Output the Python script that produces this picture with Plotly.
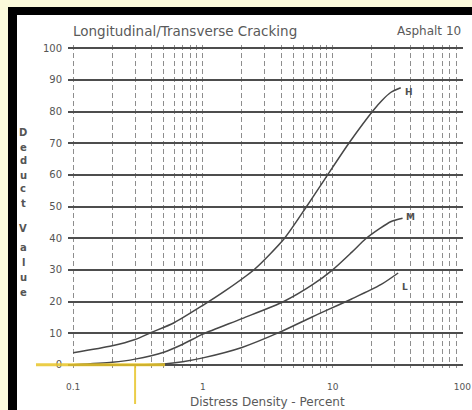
import plotly.graph_objects as go
import math

# ---- data ----
h_density = [0.1, 0.2, 0.3, 0.4, 0.6, 1.0, 1.5, 2.5, 4.26, 6.3, 9.15, 13.5, 20.7, 24, 28, 33.5]
h_value   = [3.8, 6.0, 8.0, 10.2, 13.3, 18.8, 23.5, 30.2, 40, 50, 60, 70.3, 80.5, 83.5, 86, 87.5]

m_density = [0.1, 0.2, 0.3, 0.5, 0.7, 1.0, 2.0, 4.2, 7, 10, 14, 18, 23, 28, 34.6]
m_value   = [0, 0.8, 1.8, 4, 6.5, 9.7, 14.6, 20, 25.3, 30, 35.5, 39.8, 43, 45.2, 46.3]

l_density = [0.1, 0.3, 0.5, 0.7, 1.0, 2.0, 3.76, 7, 14, 23.5, 32]
l_value   = [0, 0, 0.3, 1, 2.2, 5.5, 10, 15.2, 20.8, 25.3, 29]

curve_names = ["H", "M", "L"]

y_ticks = [0, 10, 20, 30, 40, 50, 60, 70, 80, 90, 100]
x_grid = [m * 10 ** e for e in (-1, 0, 1) for m in range(1, 10)] + [100]
x_tick_labels = {0.1: "0.1", 1: "1", 10: "10", 100: "100"}

# reading marker (yellow lines)
read_density = 0.3
read_value = 0

title_text = "Longitudinal/Transverse Cracking"
subtitle_text = "Asphalt 10"
x_title = "Distress Density - Percent"
y_title = "Deduct Value"

# ---- figure ----
W, H = 472, 410
ml, mr, mt, mb = 68, 9, 45, 42
pw, ph = W - ml - mr, H - mt - mb

def px_x(px):
    return (px - ml) / pw

def px_y(py):
    return (H - mb - py) / ph

line_col = "#474747"
fig = go.Figure()
for name, xs, ys in zip(curve_names, [h_density, m_density, l_density],
                        [h_value, m_value, l_value]):
    fig.add_trace(go.Scatter(x=xs, y=ys, mode="lines", name=name,
                             line=dict(color=line_col, width=1.5, shape="spline", smoothing=0.7),
                             hoverinfo="skip", showlegend=False))

# curve labels
label_shift = {"H": (2, -4), "M": (1, 1), "L": (2, -14)}
for name, xs, ys in zip(curve_names, [h_density, m_density, l_density],
                        [h_value, m_value, l_value]):
    dx, dy = label_shift[name]
    fig.add_annotation(x=math.log10(xs[-1]), y=ys[-1], text="<b>%s</b>" % name, showarrow=False,
                       xanchor="left", yanchor="middle", xshift=dx, yshift=dy,
                       font=dict(family="DejaVu Sans", size=9, color="#505050"))

# background decorations: white sheet, black frame bars
fig.add_shape(type="rect", xref="paper", yref="paper", layer="below",
              x0=px_x(8), x1=px_x(W + 5), y0=px_y(H + 5), y1=px_y(7),
              fillcolor="white", line=dict(width=0))
fig.add_shape(type="rect", xref="paper", yref="paper", layer="below",
              x0=px_x(8), x1=px_x(W + 5), y0=px_y(15), y1=px_y(7),
              fillcolor="black", line=dict(width=0))
fig.add_shape(type="rect", xref="paper", yref="paper", layer="below",
              x0=px_x(8), x1=px_x(17), y0=px_y(H + 5), y1=px_y(7),
              fillcolor="black", line=dict(width=0))

# yellow reading lines
yel = "rgba(232,196,40,0.85)"
fig.add_shape(type="line", xref="paper", yref="y", x0=px_x(36), x1=px_x(165),
              y0=read_value, y1=read_value, line=dict(color=yel, width=3), layer="above")
fig.add_shape(type="line", xref="x", yref="paper", x0=read_density, x1=read_density,
              y0=px_y(366), y1=px_y(404), line=dict(color=yel, width=2), layer="above")

# titles
font_txt = dict(family="DejaVu Sans", color="#5a5a5a")
fig.add_annotation(xref="paper", yref="paper", x=px_x(71), y=px_y(31), text=title_text,
                   showarrow=False, xanchor="left", yanchor="middle",
                   font=dict(size=13.5, **font_txt))
fig.add_annotation(xref="paper", yref="paper", x=px_x(463), y=px_y(31), text=subtitle_text,
                   showarrow=False, xanchor="right", yanchor="middle",
                   font=dict(size=12, **font_txt))
fig.add_annotation(xref="paper", yref="paper", x=px_x(267), y=px_y(402), text=x_title,
                   showarrow=False, xanchor="center", yanchor="middle",
                   font=dict(size=12, **font_txt))
# vertical stacked y-axis title letters
letter_y = [132, 147, 160, 175, 188, 203, None, 228, 248, 262, 277, 292]
for ch, cy in zip(y_title, letter_y):
    if ch == " " or cy is None:
        continue
    fig.add_annotation(xref="paper", yref="paper", x=px_x(23), y=px_y(cy),
                       text="<b>%s</b>" % ch, showarrow=False,
                       xanchor="center", yanchor="middle",
                       font=dict(family="DejaVu Sans", size=10, color="#555"))

fig.update_layout(
    width=W, height=H, margin=dict(l=ml, r=mr, t=mt, b=mb, pad=0, autoexpand=False),
    paper_bgcolor="#fbfadb", plot_bgcolor="white",
    xaxis=dict(type="log", range=[-1.04, 2.005], automargin=False,
               tickvals=x_grid, ticktext=[x_tick_labels.get(v, "") for v in x_grid],
               showgrid=True, gridcolor="#8e8e8e", gridwidth=1, griddash="5px,3px",
               showline=False, zeroline=False, ticks="",
               tickfont=dict(family="DejaVu Sans", size=9, color="#555"),
               ticklabelstandoff=12),
    yaxis=dict(range=[-1, 101], tickvals=y_ticks, automargin=False,
               showgrid=True, gridcolor="#4d4d4d", gridwidth=2,
               showline=False, zeroline=False, ticks="",
               tickfont=dict(family="DejaVu Sans", size=10, color="#555"),
               ticklabelstandoff=5),
)

fig.write_html("out.html", config={"displayModeBar": False},
               post_script="document.body.style.margin='0';document.body.style.overflow='hidden';")
